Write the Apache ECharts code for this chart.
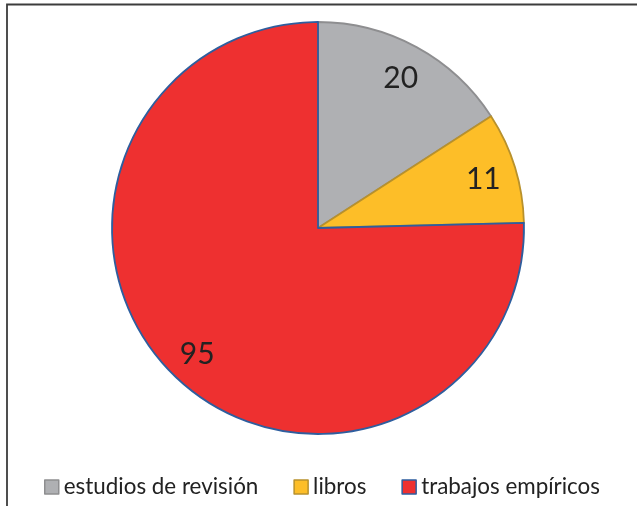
<!DOCTYPE html>
<html><head><meta charset="utf-8">
<script src="https://cdn.jsdelivr.net/npm/echarts@6/dist/echarts.min.js"></script>
<style>html,body{margin:0;padding:0;background:#fff}#c{width:637px;height:506px}</style>
</head><body><div id="c"></div>
<script>
const categories = ['estudios de revisión', 'libros', 'trabajos empíricos'];
const values = [20, 11, 95];
const fillColors = ['#AFB0B3', '#FDBE28', '#EE3030'];
const borderColors = ['#8E8E90', '#B8912C', '#2E5E9E'];

const chart = echarts.init(document.getElementById('c'));
const data = categories.map((n, i) => ({
  name: n, value: values[i],
  itemStyle: { color: fillColors[i], borderColor: borderColors[i], borderWidth: 1.8 }
}));
const labelData = categories.map((n, i) => ({ name: n, value: values[i] }));
chart.setOption({
  animation: false,
  legend: {
    top: 476, left: 44,
    padding: 0,
    itemWidth: 14, itemHeight: 14, itemGap: 35,
    icon: 'rect',
    textStyle: { fontFamily: 'Lato', fontSize: 22.4, color: '#222' },
    data: categories.map((n, i) => ({ name: n, itemStyle: { color: fillColors[i], borderColor: borderColors[i], borderWidth: 1.5 } }))
  },
  graphic: [
    { type: 'polyline', shape: { points: [[7, 506], [7, 4.5], [637, 4.5]] }, style: { stroke: '#3c3c3c', lineWidth: 1.8, fill: null } }
  ],
  series: [
    {
      type: 'pie', center: [318, 228], radius: [0, 206], startAngle: 90, clockwise: true,
      label: { show: false }, labelLine: { show: false }, silent: true,
      data: data
    },
    {
      type: 'pie', center: [318, 230], radius: [134, 206], startAngle: 90, clockwise: true,
      silent: true, legendHoverLink: false,
      itemStyle: { color: 'rgba(0,0,0,0)' },
      label: { show: true, position: 'inside', formatter: '{c}', fontFamily: 'Lato', fontSize: 30, color: '#222' },
      labelLine: { show: false },
      data: labelData
    }
  ]
});
</script></body></html>
